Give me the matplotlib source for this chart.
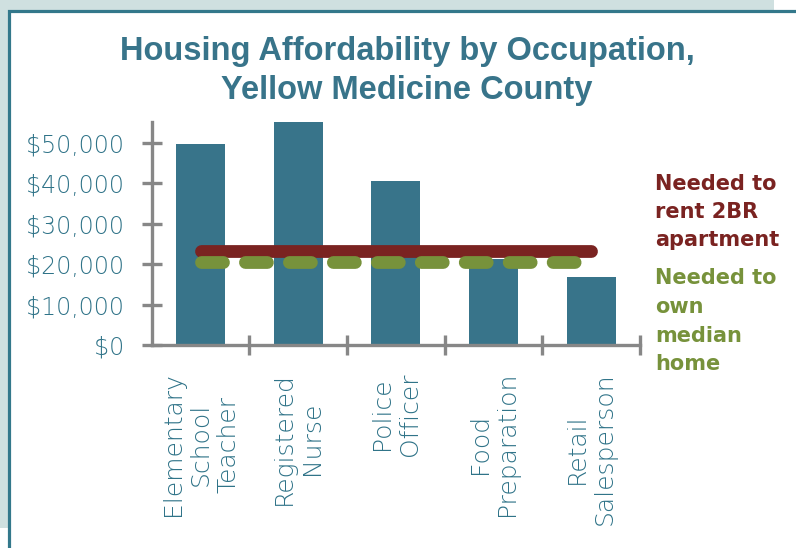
import matplotlib
matplotlib.use("Agg")
import matplotlib.pyplot as plt
from matplotlib.patches import Rectangle

occupations = ["Elementary\nSchool\nTeacher", "Registered\nNurse", "Police\nOfficer",
               "Food\nPreparation", "Retail\nSalesperson"]
wages = [49800, 55300, 40600, 21400, 16800]
rent_2br = 23200
own_median = 20500
yticks = [0, 10000, 20000, 30000, 40000, 50000]
ytick_labels = ["$0", "$10,000", "$20,000", "$30,000", "$40,000", "$50,000"]

teal = "#38748a"
label_col = "#2f7388"
red = "#7a2321"
green = "#77923b"
grey = "#878787"

W, H = 796, 548
fig = plt.figure(figsize=(W / 100, H / 100), dpi=100)
fig.patch.set_facecolor("white")

# slide frame: light band behind, white panel with teal border
fig.patches.append(Rectangle((0, (H - 527.7) / H), 774 / W, 1, transform=fig.transFigure,
                             facecolor="#cfe0e0", edgecolor="none", zorder=-3))
fig.patches.append(Rectangle((9 / W, -0.1), 1.2, 0.1 + (H - 10.7) / H, transform=fig.transFigure,
                             facecolor="white", edgecolor="#33788b", lw=2.3, zorder=-2))

ax = fig.add_axes([151.7 / W, (H - 345) / H, (640 - 151.7) / W, (345 - 121.6) / H])
ax.set_facecolor("none")

x = range(len(occupations))
ax.bar(x, wages, width=0.5, color=teal, zorder=2)
ax.plot([0, len(occupations) - 1], [rent_2br] * 2, color=red, lw=9.2,
        solid_capstyle="round", zorder=3)
ax.plot([0, len(occupations) - 1], [own_median] * 2, color=green, lw=9.2,
        dashes=(1.72, 1.72), dash_capstyle="round", zorder=4)

ax.set_xlim(-0.5, len(occupations) - 0.5)
ax.set_ylim(0, 55300)

for s in ["top", "right"]:
    ax.spines[s].set_visible(False)
for s in ["left", "bottom"]:
    ax.spines[s].set_color(grey)
    ax.spines[s].set_linewidth(2.4)

ax.set_yticks(yticks, ytick_labels)
ax.tick_params(axis="y", direction="inout", length=14, width=2.4, color=grey,
               pad=13, labelsize=17, labelcolor=label_col)

ax.set_xticks([i + 0.5 for i in x])
ax.set_xticklabels([])
ax.tick_params(axis="x", which="major", direction="inout", length=14, width=2.4, color=grey)
ax.set_xticks(list(x), occupations, minor=True, rotation=90)
ax.tick_params(axis="x", which="minor", length=0, pad=19.5, labelsize=18, labelcolor=label_col)

for lab in ax.get_yticklabels() + ax.get_xticklabels(minor=True):
    lab.set_fontfamily("DejaVu Sans")
    lab.set_fontweight(200)

fig.text(407 / W, 1 - 36 / H, "Housing Affordability by Occupation,\nYellow Medicine County",
         ha="center", va="top", fontsize=23.5, fontweight="bold", color=teal,
         family="Liberation Sans", linespacing=1.33)

fig.text(655 / W, 1 - 174 / H, "Needed to\nrent 2BR\napartment", ha="left", va="top",
         fontsize=15, fontweight="bold", color=red, linespacing=1.5)
fig.text(655 / W, 1 - 268 / H, "Needed to\nown\nmedian\nhome", ha="left", va="top",
         fontsize=15, fontweight="bold", color=green, linespacing=1.55)

fig.savefig("out.png", dpi=100)
